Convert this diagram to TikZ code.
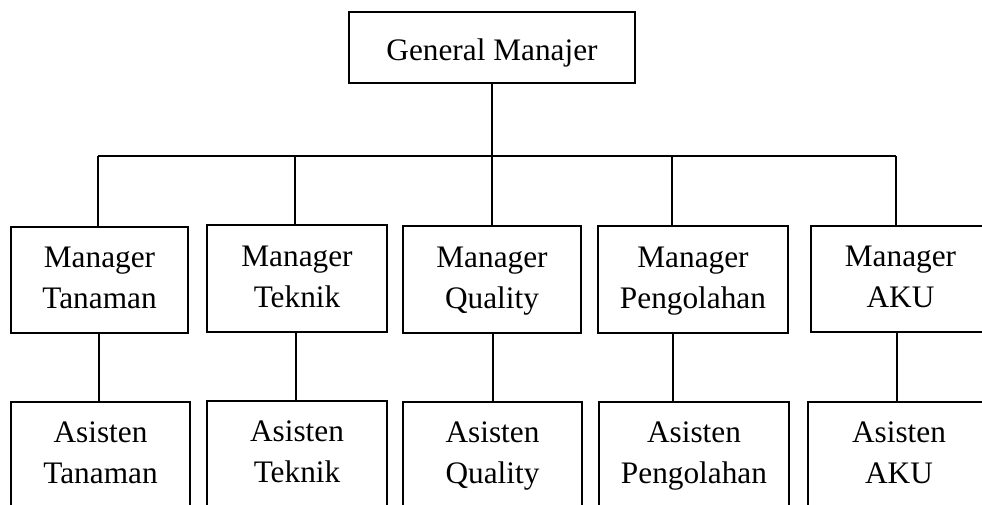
\documentclass[tikz,border=0pt]{standalone}
\usepackage{fontspec}
\setmainfont{Liberation Serif}
\newcommand{\boxtext}[2]{\strut #1\\\strut #2}
\begin{document}
\begin{tikzpicture}[x=1pt,y=-1pt,
  unit/.style={draw, line width=2.4pt, inner sep=0pt, align=center,
    font=\fontsize{31.3}{41}\selectfont},
  link/.style={line width=1.1pt}]
\useasboundingbox (0,0) rectangle (982,505);
\clip (0,0) rectangle (982,505);

% top level
\node[unit, minimum width=286pt, minimum height=71pt] (gm) at (492,47.5)
  {\strut\raisebox{-5pt}{General Manajer}};

% managers
\node[unit, minimum width=177pt, minimum height=106pt] (m1) at (99.5,280) {\boxtext{Manager}{Tanaman}};
\node[unit, minimum width=180pt, minimum height=107pt] (m2) at (297,278.5) {\boxtext{Manager}{Teknik}};
\node[unit, minimum width=178pt, minimum height=107pt] (m3) at (492,279.5) {\boxtext{Manager}{Quality}};
\node[unit, minimum width=190pt, minimum height=107pt] (m4) at (693,279.5) {\boxtext{Manager}{Pengolahan}};
\node[unit, minimum width=179pt, minimum height=106pt] (m5) at (900.5,279) {\boxtext{Manager}{AKU}};

% assistants
\node[unit, minimum width=179pt, minimum height=106pt] (a1) at (100.5,455) {\boxtext{Asisten}{Tanaman}};
\node[unit, minimum width=180pt, minimum height=106pt] (a2) at (297,454) {\boxtext{Asisten}{Teknik}};
\node[unit, minimum width=179pt, minimum height=106pt] (a3) at (492.5,455) {\boxtext{Asisten}{Quality}};
\node[unit, minimum width=190pt, minimum height=106pt] (a4) at (694,455) {\boxtext{Asisten}{Pengolahan}};
\node[unit, minimum width=182pt, minimum height=106pt] (a5) at (899,455) {\boxtext{Asisten}{AKU}};

% bus line below the general manager
\coordinate (d1) at (98,156);
\coordinate (d2) at (295,156);
\coordinate (d3) at (492,156);
\coordinate (d4) at (672,156);
\coordinate (d5) at (896,156);

\draw[link] (gm.south) -- (gm.south |- d3);
\draw[link] (d1) -- (d5);
\foreach \i in {1,...,5}{
  \draw[link] (d\i) -- (d\i |- m\i.north);
  \draw[link] ([xshift=1pt]d\i |- m\i.south) -- ([xshift=1pt]d\i |- a\i.north);
}
\end{tikzpicture}
\end{document}
